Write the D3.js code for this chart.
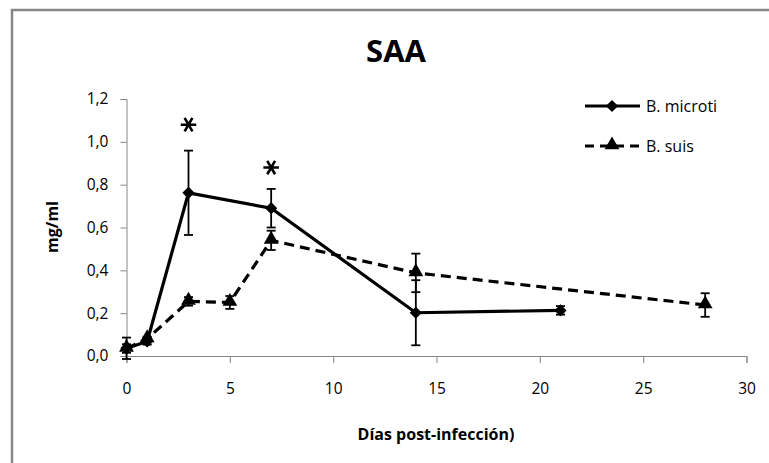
<!DOCTYPE html>
<html>
<head>
<meta charset="utf-8">
<script src="https://cdn.jsdelivr.net/npm/d3@7"></script>
<style>
  body { margin: 0; background: #fff; }
  text { font-family: "Open Sans", sans-serif; }
</style>
</head>
<body>
<div id="plot"></div>
<script>
// data
let microtiDays = [0, 1, 3, 7, 14, 21]
let microtiMean = [0.036, 0.068, 0.762, 0.69, 0.202, 0.213]
let microtiErr = [0.05, 0.015, 0.197, 0.09, 0.152, 0.02]
let suisDays = [0, 1, 3, 5, 7, 14, 28]
let suisMean = [0.035, 0.08, 0.255, 0.25, 0.54, 0.388, 0.238]
let suisErr = [0.02, 0.01, 0.02, 0.03, 0.045, 0.09, 0.055]
let starDays = [3, 7]
let starValues = [1.08, 0.88]
let xTicks = [0, 5, 10, 15, 20, 25, 30]
let yTicks = [0, 0.2, 0.4, 0.6, 0.8, 1.0, 1.2]

let svg = d3.select('#plot').append('svg')
.attr('width', 769)
.attr('height', 463)

// chart frame
svg.append('path')
.attr('d', 'M12,463 V10 H769')
.attr('fill', 'none')
.attr('stroke', '#878787')
.attr('stroke-width', 2.5)

let x = d3.scaleLinear().domain([0, 30]).range([126.5, 746.5])
let y = d3.scaleLinear().domain([0, 1.2]).range([356, 99])

let fmt = d => d3.format('.1f')(d).replace('.', ',')

let xAxis = svg.append('g')
.attr('transform', 'translate(0,356)')
.call(d3.axisBottom(x).tickValues(xTicks).tickSize(7).tickPadding(20))
xAxis.selectAll('text').style('font-size', '15.5px').attr('fill', '#000')

let yAxis = svg.append('g')
.attr('transform', 'translate(126.5,0)')
.call(d3.axisLeft(y).tickValues(yTicks).tickFormat(fmt).tickSize(6).tickPadding(12))
yAxis.selectAll('text').style('font-size', '15.5px').attr('fill', '#000')

svg.selectAll('.domain, .tick line').attr('stroke', '#868686')

// titles
svg.append('text')
.attr('x', 396)
.attr('y', 62)
.attr('text-anchor', 'middle')
.style('font-size', '31px')
.style('font-weight', 'bold')
.text('SAA')

svg.append('text')
.attr('x', 436)
.attr('y', 440)
.attr('text-anchor', 'middle')
.style('font-size', '16px')
.style('font-weight', 'bold')
.text('Días post-infección)')

svg.append('text')
.attr('transform', 'translate(58,227) rotate(-90)')
.attr('text-anchor', 'middle')
.style('font-size', '16px')
.style('font-weight', 'bold')
.text('mg/ml')

let microti = microtiDays.map((d, i) => ({day: d, v: microtiMean[i], e: microtiErr[i]}))
let suis = suisDays.map((d, i) => ({day: d, v: suisMean[i], e: suisErr[i]}))

let line = d3.line().x(d => x(d.day)).y(d => y(d.v))

function errorBars(data) {
  let g = svg.append('g').attr('stroke', '#000').attr('stroke-width', 1.8)
  data.forEach(d => {
    g.append('line')
    .attr('x1', x(d.day)).attr('x2', x(d.day))
    .attr('y1', y(d.v - d.e)).attr('y2', y(d.v + d.e))
    ;[d.v - d.e, d.v + d.e].forEach(v => {
      g.append('line')
      .attr('x1', x(d.day) - 4.5).attr('x2', x(d.day) + 4.5)
      .attr('y1', y(v)).attr('y2', y(v))
    })
  })
}

errorBars(suis)
errorBars(microti)

svg.append('path')
.datum(suis)
.attr('d', line)
.attr('fill', 'none')
.attr('stroke', '#000')
.attr('stroke-width', 3.2)
.attr('stroke-dasharray', '10,6')

svg.append('path')
.datum(microti)
.attr('d', line)
.attr('fill', 'none')
.attr('stroke', '#000')
.attr('stroke-width', 3.2)

let diamond = d3.symbol().type(d3.symbolDiamond2).size(95)
let triangle = d3.symbol().type(d3.symbolTriangle).size(95)

svg.selectAll('.tri').data(suis).enter()
.append('path')
.attr('d', triangle)
.attr('transform', d => 'translate(' + x(d.day) + ',' + (y(d.v) - 1) + ')')
.attr('fill', '#000')

svg.selectAll('.dia').data(microti).enter()
.append('path')
.attr('d', diamond)
.attr('transform', d => 'translate(' + x(d.day) + ',' + y(d.v) + ')')
.attr('fill', '#000')

// significance marks
let star = d3.symbol().type(d3.symbolAsterisk).size(170)
svg.selectAll('.star').data(starDays).enter()
.append('path')
.attr('d', star)
.attr('transform', (d, i) => 'translate(' + x(d) + ',' + y(starValues[i]) + ') rotate(90)')
.attr('fill', 'none')
.attr('stroke', '#000')
.attr('stroke-width', 2.6)

// legend
let legend = svg.append('g').attr('transform', 'translate(585,0)')
legend.append('line')
.attr('x1', 0).attr('x2', 55).attr('y1', 106).attr('y2', 106)
.attr('stroke', '#000').attr('stroke-width', 3.2)
legend.append('path')
.attr('d', diamond)
.attr('transform', 'translate(27,106)')
legend.append('text')
.attr('x', 61).attr('y', 112)
.style('font-size', '16px')
.text('B. microti')

legend.append('line')
.attr('x1', 0).attr('x2', 55).attr('y1', 146).attr('y2', 146)
.attr('stroke', '#000').attr('stroke-width', 3.2)
.attr('stroke-dasharray', '9,6')
legend.append('path')
.attr('d', triangle)
.attr('transform', 'translate(27,145)')
legend.append('text')
.attr('x', 61).attr('y', 152)
.style('font-size', '16px')
.text('B. suis')
</script>
</body>
</html>
